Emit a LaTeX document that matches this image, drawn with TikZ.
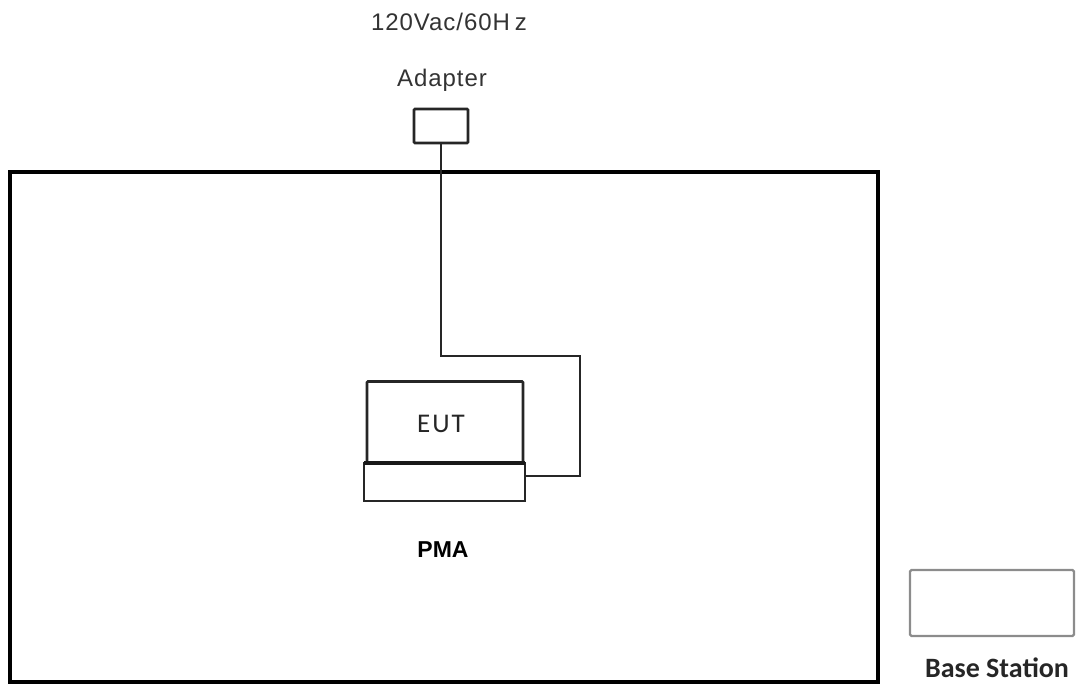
\documentclass[tikz,border=0pt]{standalone}
\usepackage{fontspec}
\setmainfont{Liberation Sans}
\newfontfamily\calibri{Carlito}
\newfontfamily\spaced[LetterSpace=4]{Liberation Sans}
\begin{document}
\begin{tikzpicture}[x=1pt,y=-1pt,
  box/.style={draw=black!85,line width=2.6pt,inner sep=0pt,outer sep=0pt,rounded corners=1pt},
  lbl/.style={inner sep=0pt,anchor=base}]
\useasboundingbox (0,0) rectangle (1079,685);
% room
\node[draw=black,line width=4.5pt,inner sep=0pt,minimum width=868pt,minimum height=510pt] (room) at (444,427) {};
% labels top
\node[lbl,font=\spaced\fontsize{24}{24}\selectfont,text=black!80] (volt) at (449,31) {120Vac/60H\kern5pt z};
\node[lbl,font=\spaced\fontsize{24}{24}\selectfont,text=black!80] (adlbl) at (442,87) {Adapter};
% adapter
\node[box,minimum width=54pt,minimum height=34pt] (adapter) at (441,126) {};
% EUT and PMA
\node[box,minimum width=156pt,minimum height=81pt] (eut) at (445,422) {};
\node[lbl,font=\calibri\fontsize{27}{27}\selectfont,text=black!85] (euttxt) at (441,432) {E\kern2pt U\kern2pt T};
\node[box,rounded corners=0pt,minimum width=161pt,minimum height=38pt] (pma) at (444.5,482) {};
\draw[line width=4.5pt,black!90] (pma.north west) -- (pma.north east);
\node[lbl,font=\bfseries\fontsize{23}{23}\selectfont] (pmatxt) at (443,557) {PMA};
% cable
\coordinate (b1) at (580,356);
\coordinate (b2) at (525,476);
\draw[line width=2.6pt,black!85,line join=miter] (adapter.south) |- (b1) -- (b1 |- b2) -- (b2);
% base station
\node[draw=black!45,line width=2.2pt,rounded corners=1.5pt,inner sep=0pt,minimum width=164pt,minimum height=66pt] (base) at (992,603) {};
\node[lbl,font=\calibri\bfseries\fontsize{28}{28}\selectfont,text=black!85] (basetxt) at (997,677) {Base Station};
\end{tikzpicture}
\end{document}
